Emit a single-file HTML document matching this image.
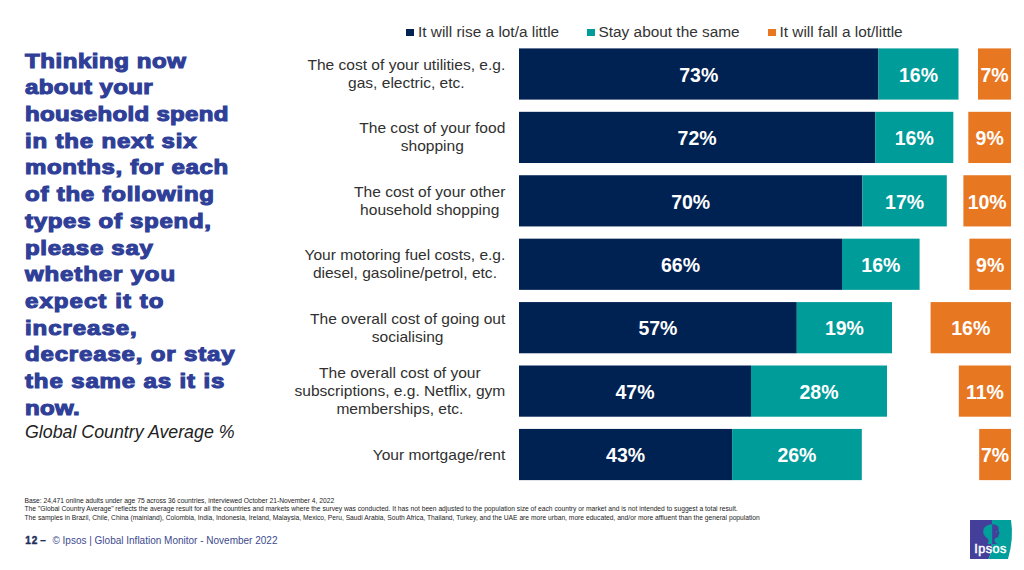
<!DOCTYPE html>
<html><head><meta charset="utf-8">
<style>
*{margin:0;padding:0;box-sizing:border-box}
html,body{width:1024px;height:570px;background:#fff;overflow:hidden;position:relative;font-family:"Liberation Sans",sans-serif}
.h{position:absolute;left:25px;top:47.8px;color:#2f3f98;font-weight:bold;font-size:20px;line-height:26.67px;-webkit-text-stroke:1.1px #2f3f98;transform:scaleX(1.2);transform-origin:0 0;white-space:nowrap}
.sub{position:absolute;left:25px;top:422.3px;font-style:italic;font-size:17.8px;color:#222;white-space:nowrap}
.leg{position:absolute;top:22.8px;font-size:15.4px;color:#333;white-space:nowrap}
.sq{position:absolute;top:28.7px;width:8px;height:7.5px}
.lab{position:absolute;right:518.7px;width:260px;display:flex;align-items:center;justify-content:flex-end;height:51.2px}
.lab span{display:inline-block;text-align:center;font-size:15.56px;line-height:18px;color:#303030}
.bar{position:absolute;height:51.2px;display:flex;align-items:center;justify-content:center;color:#fff;font-weight:bold;font-size:19.5px;padding-top:2.6px}
.n{background:#002253}
.t{background:#009c99}
.o{background:#e87722}
.fn{position:absolute;left:24.5px;top:497.4px;font-size:6.7px;line-height:8.1px;color:#222;white-space:nowrap}
.ft{position:absolute;left:52.4px;top:534.6px;font-size:10px;line-height:12px;color:#3d4a8e;white-space:nowrap}
.ftb{position:absolute;left:25.3px;top:534.6px;font-size:10px;line-height:12px;font-weight:bold;color:#1f2d5c;letter-spacing:1px;-webkit-text-stroke:0.45px #1f2d5c;white-space:nowrap}
</style></head><body>
<div class="h"><div style="letter-spacing:0.47px">Thinking now</div><div style="letter-spacing:0.343px">about your</div><div style="letter-spacing:0.286px">household spend</div><div style="letter-spacing:0.685px">in the next six</div><div style="letter-spacing:0.539px">months, for each</div><div style="letter-spacing:0.65px">of the following</div><div style="letter-spacing:0.589px">types of spend,</div><div style="letter-spacing:0.593px">please say</div><div style="letter-spacing:0.725px">whether you</div><div style="letter-spacing:0.886px">expect it to</div><div style="letter-spacing:0.792px">increase,</div><div style="letter-spacing:0.698px">decrease, or stay</div><div style="letter-spacing:0.729px">the same as it is</div><div style="letter-spacing:0.278px">now.</div></div>
<div class="sub">Global Country Average %</div>

<div class="sq" style="left:406px;background:#002253"></div>
<div class="leg" style="left:418px">It will rise a lot/a little</div>
<div class="sq" style="left:586.5px;background:#009c99"></div>
<div class="leg" style="left:598.5px">Stay about the same</div>
<div class="sq" style="left:767.5px;background:#e87722"></div>
<div class="leg" style="left:779.5px">It will fall a lot/little</div>

<div class="lab" style="top:48.4px"><span>The cost of your utilities, e.g.<br>gas, electric, etc.</span></div>
<div class="lab" style="top:111.82px"><span>The cost of your food<br>shopping</span></div>
<div class="lab" style="top:175.24px"><span>The cost of your other<br>household shopping</span></div>
<div class="lab" style="top:238.66px"><span>Your motoring fuel costs, e.g.<br>diesel, gasoline/petrol, etc.</span></div>
<div class="lab" style="top:302.08px"><span>The overall cost of going out<br>socialising</span></div>
<div class="lab" style="top:365.5px"><span>The overall cost of your<br>subscriptions, e.g. Netflix, gym<br>memberships, etc.</span></div>
<div class="lab" style="top:428.92px"><span>Your mortgage/rent</span></div>

<svg style="position:absolute;left:0;top:0" width="1024" height="570">
<rect x="519" y="48.4" width="359.5" height="51.2" fill="#002253"/>
<rect x="878.5" y="48.4" width="80.0" height="51.2" fill="#009c99"/>
<rect x="978" y="48.4" width="33" height="51.2" fill="#e87722"/>
<rect x="519" y="111.82" width="356.2" height="51.2" fill="#002253"/>
<rect x="875.2" y="111.82" width="78.1" height="51.2" fill="#009c99"/>
<rect x="968.3" y="111.82" width="42.7" height="51.2" fill="#e87722"/>
<rect x="519" y="175.24" width="343.4" height="51.2" fill="#002253"/>
<rect x="862.4" y="175.24" width="84.4" height="51.2" fill="#009c99"/>
<rect x="963.4" y="175.24" width="47.6" height="51.2" fill="#e87722"/>
<rect x="519" y="238.66" width="323" height="51.2" fill="#002253"/>
<rect x="842" y="238.66" width="77.6" height="51.2" fill="#009c99"/>
<rect x="969.4" y="238.66" width="41.6" height="51.2" fill="#e87722"/>
<rect x="519" y="302.08" width="277.8" height="51.2" fill="#002253"/>
<rect x="796.8" y="302.08" width="95.2" height="51.2" fill="#009c99"/>
<rect x="930.6" y="302.08" width="80.4" height="51.2" fill="#e87722"/>
<rect x="519" y="365.5" width="232" height="51.2" fill="#002253"/>
<rect x="751" y="365.5" width="136" height="51.2" fill="#009c99"/>
<rect x="958.8" y="365.5" width="52.2" height="51.2" fill="#e87722"/>
<rect x="519" y="428.92" width="213.1" height="51.2" fill="#002253"/>
<rect x="732.1" y="428.92" width="129.7" height="51.2" fill="#009c99"/>
<rect x="979.2" y="428.92" width="31.8" height="51.2" fill="#e87722"/>
</svg>
<div class="bar" style="top:48.4px;left:519px;width:359.5px">73%</div>
<div class="bar" style="top:48.4px;left:878.5px;width:80.0px">16%</div>
<div class="bar" style="top:48.4px;left:978px;width:33px">7%</div>

<div class="bar" style="top:111.82px;left:519px;width:356.2px">72%</div>
<div class="bar" style="top:111.82px;left:875.2px;width:78.1px">16%</div>
<div class="bar" style="top:111.82px;left:968.3px;width:42.7px">9%</div>

<div class="bar" style="top:175.24px;left:519px;width:343.4px">70%</div>
<div class="bar" style="top:175.24px;left:862.4px;width:84.4px">17%</div>
<div class="bar" style="top:175.24px;left:963.4px;width:47.6px">10%</div>

<div class="bar" style="top:238.66px;left:519px;width:323px">66%</div>
<div class="bar" style="top:238.66px;left:842px;width:77.6px">16%</div>
<div class="bar" style="top:238.66px;left:969.4px;width:41.6px">9%</div>

<div class="bar" style="top:302.08px;left:519px;width:277.8px">57%</div>
<div class="bar" style="top:302.08px;left:796.8px;width:95.2px">19%</div>
<div class="bar" style="top:302.08px;left:930.6px;width:80.4px">16%</div>

<div class="bar" style="top:365.5px;left:519px;width:232px">47%</div>
<div class="bar" style="top:365.5px;left:751px;width:136px">28%</div>
<div class="bar" style="top:365.5px;left:958.8px;width:52.2px">11%</div>

<div class="bar" style="top:428.92px;left:519px;width:213.1px">43%</div>
<div class="bar" style="top:428.92px;left:732.1px;width:129.7px">26%</div>
<div class="bar" style="top:428.92px;left:979.2px;width:31.8px">7%</div>

<div class="fn">Base: 24,471 online adults under age 75 across 36 countries, interviewed October 21-November 4, 2022<br>The "Global Country Average" reflects the average result for all the countries and markets where the survey was conducted. It has not been adjusted to the population size of each country or market and is not intended to suggest a total result.<br>The samples in Brazil, Chile, China (mainland), Colombia, India, Indonesia, Ireland, Malaysia, Mexico, Peru, Saudi Arabia, South Africa, Thailand, Turkey, and the UAE are more urban, more educated, and/or more affluent than the general population</div>

<div class="ftb">12</div><div class="ftb" style="left:40.3px;letter-spacing:0;-webkit-text-stroke:0.3px #1f2d5c">–</div><div class="ft">© Ipsos | Global Inflation Monitor - November 2022</div>

<svg style="position:absolute;left:968px;top:518px" width="48" height="44" viewBox="968 518 48 44">
  <path d="M970 520 H992 V540 Q992 552 988.5 559 H970 Z" fill="#443f9a"/>
  <path d="M992 520 H1011 Q1014 538 1008 559 H988.5 Q992 552 992 540 Z" fill="#009f9b"/>
  <path d="M992.2 524.2 C988 524.4 984.5 526.5 983.4 529.5 C982.8 532 983.5 535 985.5 536.8 C987 538 988.5 539 988.6 540.5 L987.6 544 L992.2 544 Z" fill="#009f9b"/>
  <path d="M992.2 524.2 C995.5 524.3 998 525.5 998.5 527.5 L998.6 531 L999.7 533.4 L998.6 534.2 L998.6 535.8 C998.2 537.4 997 538 995.5 538 L994.4 539.7 L994.8 542 L997 544 L992.2 544 Z" fill="#443f9a"/>
  <circle cx="996.4" cy="531.9" r="0.7" fill="#009f9b"/>
  <text x="990.5" y="552.5" font-family="Liberation Sans" font-size="12.6" fill="#fff" stroke="#fff" stroke-width="0.5" letter-spacing="0.45" text-anchor="middle">Ipsos</text>
</svg>
</body></html>
